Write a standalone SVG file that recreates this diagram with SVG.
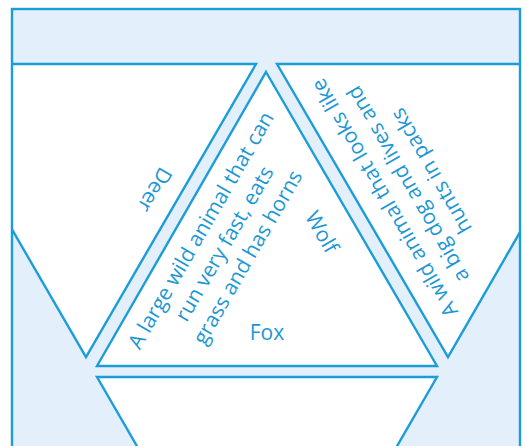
<svg xmlns="http://www.w3.org/2000/svg" width="525" height="446" viewBox="0 0 525 446">
<defs>
<style>
.tri{fill:#ffffff;stroke:#1b9dd9;stroke-width:2.4;stroke-linejoin:miter}
.lbl{font-family:"Segoe UI","Open Sans","Noto Sans",sans-serif;font-size:21px;fill:#1b98d4;text-anchor:middle}
</style>
<clipPath id="frame"><rect x="12" y="9" width="508" height="460"/></clipPath>
</defs>
<rect x="12" y="9" width="508" height="460" fill="#e3effa"/>
<g clip-path="url(#frame)">
<g id="tri-left"><polygon class="tri" points="-84,64 256,64 86,357"/></g>
<g id="tri-center"><polygon class="tri" points="266,72 437,366 97,366"/></g>
<g id="tri-right"><polygon class="tri" points="277,64 617,64 448,357"/></g>
<g id="tri-bottom"><polygon class="tri" points="97,377 437,377 267,671"/></g>
</g>
<g id="connectors"></g>
<rect x="12" y="9" width="508" height="460" fill="none" stroke="#1b9dd9" stroke-width="2.4"/>
<g id="labels">
<text class="lbl" transform="translate(155,190) rotate(120)" x="0" y="7.5">Deer</text>
<text class="lbl" transform="translate(322,232) rotate(60)" x="0" y="7.5">Wolf</text>
<text class="lbl" x="267" y="339.5">Fox</text>
<text class="lbl" transform="translate(224,243.5) rotate(-60)"><tspan x="0" y="-19.5">A large wild animal that can</tspan><tspan x="0" y="7.5">run very fast, eats</tspan><tspan x="0" y="34.5">grass and has horns</tspan></text>
<text class="lbl" transform="translate(407.5,184.5) rotate(-120)"><tspan x="0" y="-19.5">A wild animal that looks like</tspan><tspan x="0" y="7.5">a big dog and lives and</tspan><tspan x="0" y="34.5">hunts in packs</tspan></text>
</g>
</svg>
